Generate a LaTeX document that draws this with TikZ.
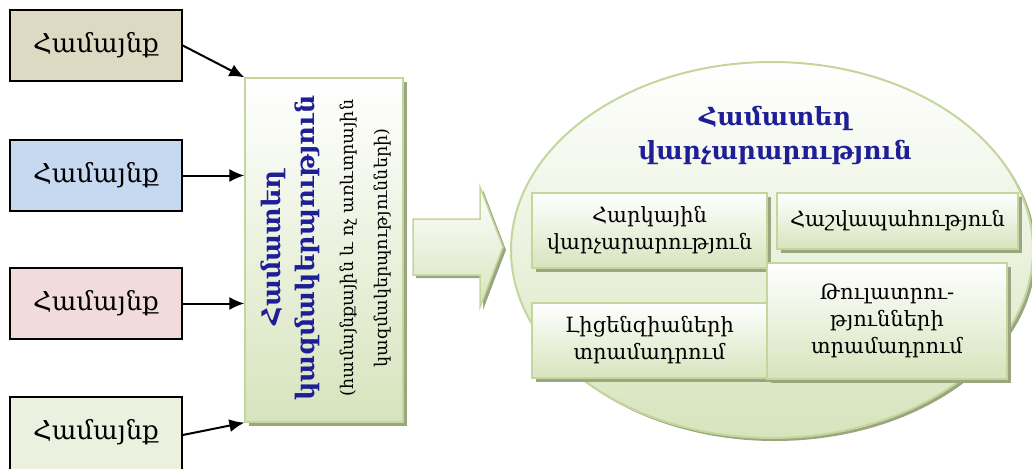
\documentclass[tikz,border=0pt]{standalone}
\usepackage{fontspec}
\setmainfont{DejaVu Serif}
\usetikzlibrary{arrows.meta,shapes.geometric,shadows}
\definecolor{gline}{RGB}{195,214,155}
\definecolor{gfill}{RGB}{215,228,189}
\definecolor{gshad}{RGB}{155,165,128}
\definecolor{cTan}{RGB}{221,217,195}
\definecolor{cBlue}{RGB}{198,217,240}
\definecolor{cPink}{RGB}{242,220,219}
\definecolor{cGreen}{RGB}{235,241,222}
\definecolor{navy1}{RGB}{30,30,150}
\begin{document}
\begin{tikzpicture}[x=1pt,y=-1pt,
  comm/.style={draw=black, line width=1.6pt, minimum width=172pt, minimum height=71pt, inner sep=0pt, font=\fontsize{26}{30}\selectfont},
  gbox/.style={draw=gline, line width=1.2pt, top color=white, bottom color=gfill, align=center, inner sep=0pt,
     general shadow={fill=gshad, shadow xshift=4pt, shadow yshift=-4pt}},
  ibox/.style={gbox, font=\fontsize{21}{27}\selectfont},
  arr/.style={-{Latex[length=15pt,width=13pt]}, line width=2pt},
  vtitle/.style={rotate=90, inner sep=0pt, font=\bfseries\fontsize{25.5}{30}\selectfont, text=navy1},
  vsmall/.style={rotate=90, inner sep=0pt, font=\fontsize{17.5}{20}\selectfont}
]
\useasboundingbox (0,0) rectangle (1032,468);

% community boxes
\node[comm, fill=cTan] (b1) at (96,45.5) {Համայնք};
\node[comm, fill=cBlue] (b2) at (96,175.5) {Համայնք};
\node[comm, fill=cPink] (b3) at (96,303.5) {Համայնք};
\node[comm, fill=cGreen, minimum height=80pt] (b4) at (96,437) {};
\node[font=\fontsize{26}{30}\selectfont] (b4t) at (96,432) {Համայնք};

% vertical box
\node[gbox, minimum width=158pt, minimum height=344pt] (vb) at (324,250) {};
\node[vtitle] (v1) at (273,248) {Համատեղ};
\node[vtitle] (v2) at (307,248) {կազմակերպություն};
\node[vsmall] (v3) at (349,248) {(համայնքային և ոչ առևտրային};
\node[vsmall] (v4) at (383,248) {կազմակերպությունների)};

% arrows
\draw[arr] (b1.east) -- (vb.north west);
\draw[arr] (b2.east) -- (vb.west |- b2.east);
\draw[arr] (b3.east) -- (vb.west |- b3.east);
\draw[arr] (b4.east |- 0,435) -- (vb.south west);

% block arrow
\fill[gshad] (416,222) -- (483,222) -- (483,190) -- (506,250) -- (483,310) -- (483,278) -- (416,278) -- cycle;
\draw[gline, line width=1.5pt, top color=white, bottom color=gfill]
  (413,219) -- (480,219) -- (480,187) -- (503,247) -- (480,307) -- (480,275) -- (413,275) -- cycle;

% ellipse
\node[ellipse, draw=gline, line width=2pt, top color=white, bottom color=gfill,
  minimum width=522pt, minimum height=376pt, inner sep=0pt,
  general shadow={fill=gshad, shadow xshift=3pt, shadow yshift=-3pt}] (el) at (772,250) {};
\node[align=center, font=\bfseries\fontsize{25}{34}\selectfont, text=navy1] (elt) at (775,135)
  {Համատեղ\\վարչարարություն};

% inner boxes
\node[ibox, minimum width=235pt, minimum height=75pt] (ia) at (649.5,230.5) {Հարկային\\վարչարարություն};
\node[ibox, minimum width=241pt, minimum height=56pt] (ib) at (897.5,221) {Հաշվապահություն};
\node[ibox, minimum width=235pt, minimum height=75pt] (id) at (649.5,340.5) {Լիցենզիաների\\տրամադրում};
\node[ibox, minimum width=240pt, minimum height=116pt] (ic) at (887,321) {Թուլատրու-\\թյունների\\տրամադրում};
\end{tikzpicture}
\end{document}
